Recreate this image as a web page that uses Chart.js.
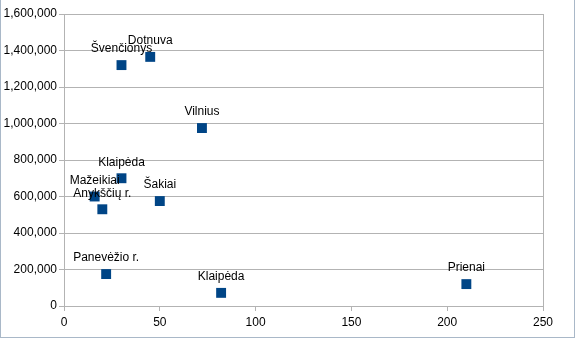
<!DOCTYPE html>
<html>
<head>
<meta charset="utf-8">
<script src="https://cdn.jsdelivr.net/npm/chart.js@4/dist/chart.umd.min.js"></script>
<style>
html,body{margin:0;padding:0;background:#fff;}
#wrap{position:relative;width:576px;height:340px;}
#frame{position:absolute;left:0;top:0;width:573px;height:337px;border-left:1px solid #a9b8c8;border-right:1px solid #a9b8c8;border-bottom:1px solid #a9b8c8;box-sizing:content-box;pointer-events:none;}
canvas{position:absolute;left:0;top:0;}
</style>
</head>
<body>
<div id="wrap"><canvas id="c" width="576" height="340"></canvas><div id="frame"></div></div>
<script>
const names = ["Švenčionys","Dotnuva","Vilnius","Klaipėda","Mažeikiai","Anykščių r.","Šakiai","Panevėžio r.","Klaipėda","Prienai"];
const xValues = [30, 45, 72, 30, 16, 20, 50, 22, 82, 210];
const yValues = [1320000, 1365000, 975000, 700000, 600000, 530000, 575000, 175000, 72000, 120000];
const xTicks = [0, 50, 100, 150, 200, 250];
const yTicks = [0, 200000, 400000, 600000, 800000, 1000000, 1200000, 1400000, 1600000];

const points = xValues.map((x, i) => ({x: x, y: yValues[i]}));

const labelPlugin = {
  id: 'pointLabels',
  afterDatasetsDraw(chart) {
    const ctx = chart.ctx;
    const meta = chart.getDatasetMeta(0);
    ctx.save();
    ctx.font = '12px "Liberation Sans", Arial, sans-serif';
    ctx.fillStyle = '#000';
    ctx.textAlign = 'center';
    ctx.textBaseline = 'middle';
    meta.data.forEach((el, i) => {
      ctx.fillText(names[i], el.x, el.y - 16);
    });
    ctx.restore();
  }
};

new Chart(document.getElementById('c'), {
  type: 'scatter',
  data: {
    datasets: [{
      data: points,
      pointStyle: 'rect',
      pointRadius: 7,
      pointHoverRadius: 7,
      backgroundColor: '#004586',
      borderColor: '#004586',
      borderWidth: 0
    }]
  },
  options: {
    responsive: false,
    animation: false,
    devicePixelRatio: 1,
    layout: {padding: {left: 0, right: 33, top: 14, bottom: 0}},
    plugins: {legend: {display: false}, tooltip: {enabled: false}},
    scales: {
      x: {
        type: 'linear',
        min: xTicks[0], max: xTicks[xTicks.length - 1],
        afterBuildTicks(s) { s.ticks = xTicks.map(v => ({value: v})); },
        afterFit(s) { s.height = 34; },
        grid: {
          color: c => (c.tick && c.tick.value === xTicks[xTicks.length - 1]) ? '#b3b3b3' : 'rgba(0,0,0,0)',
          tickColor: '#b3b3b3',
          lineWidth: 1, drawTicks: true, tickLength: 5, drawOnChartArea: true
        },
        border: {color: '#b3b3b3'},
        ticks: {color: '#000', font: {family: '"Liberation Sans", Arial, sans-serif', size: 12}, padding: 4, maxRotation: 0,
          callback: v => String(v)}
      },
      y: {
        type: 'linear',
        min: yTicks[0], max: yTicks[yTicks.length - 1],
        afterBuildTicks(s) { s.ticks = yTicks.map(v => ({value: v})); },
        afterFit(s) { s.width = 64; },
        grid: {color: '#b3b3b3', lineWidth: 1, drawTicks: true, tickLength: 5},
        border: {color: '#b3b3b3'},
        ticks: {color: '#000', font: {family: '"Liberation Sans", Arial, sans-serif', size: 12}, padding: 2,
          callback: v => v.toLocaleString('en-US')}
      }
    }
  },
  plugins: [labelPlugin]
});
</script>
</body>
</html>
